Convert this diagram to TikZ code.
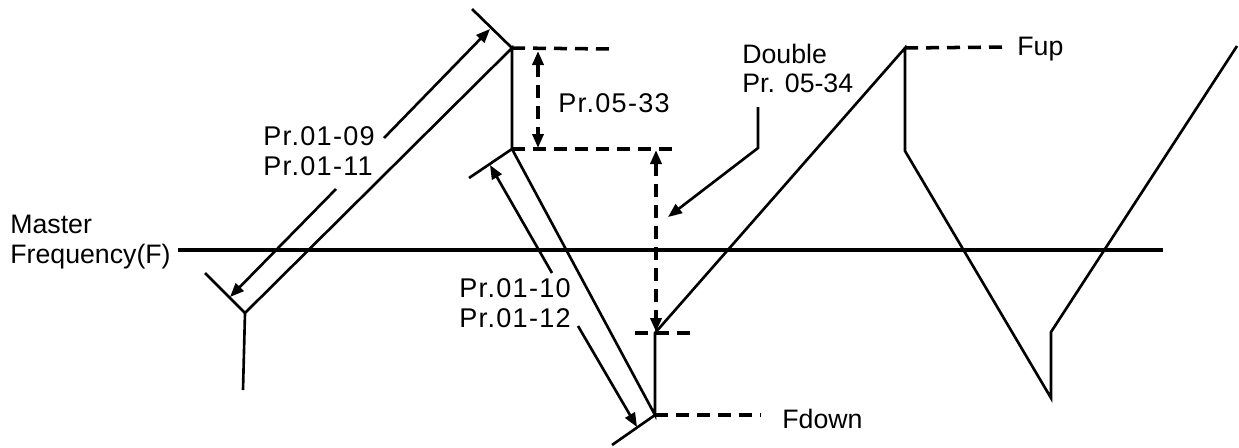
\documentclass[tikz,border=0pt]{standalone}
\usepackage{fontspec}
\setmainfont{Liberation Sans}
\usetikzlibrary{arrows.meta}

\tikzset{
  wave/.style={line width=1.5pt, line join=miter},
  masterline/.style={line width=2.2pt},
  dashlvl/.style={line width=2pt, dash pattern=on 0.26cm off 0.16cm},
  dimarrow/.style={line width=1.5pt, -{Triangle[length=0.28cm,width=0.22cm]}},
  dimdouble/.style={line width=2pt, dash pattern=on 0.26cm off 0.16cm,
    {Triangle[length=0.28cm,width=0.22cm]}-{Triangle[length=0.28cm,width=0.22cm]}},
  lbl/.style={anchor=base west, inner sep=0pt, font=\fontsize{15.2}{18}\selectfont},
  prlbl/.style={lbl, font=\fontsize{15.4}{18}\selectfont\addfontfeature{LetterSpace=4.8}},
}

\begin{document}
\begin{tikzpicture}[x=0.02cm, y=-0.02cm]
  \useasboundingbox (0,0) rectangle (1239,447);

  % corners of the frequency curve
  \coordinate (start) at (243,390);
  \coordinate (lowA) at (245,313);
  \coordinate (topA) at (512,48);
  \coordinate (stepA) at (512,149);
  \coordinate (lowB) at (655,415);
  \coordinate (stepB) at (655,333);
  \coordinate (topB) at (905,48);
  \coordinate (stepC) at (905,151);
  \coordinate (lowC) at (1051,398);
  \coordinate (stepD) at (1051,332);
  \coordinate (finish) at (1237,46);

  % master frequency
  \node[lbl] (master) at (10,233) {Master};
  \node[lbl] (freq) at (10,263) {Frequency(F)};
  \coordinate (mEnd) at (1163,250);
  \draw[masterline] (178,250) coordinate (mStart) -- (mEnd);

  \draw[wave] (start) -- (lowA) -- (topA) -- (stepA) -- (lowB) -- (stepB)
    -- (topB) -- (stepC) -- (lowC) -- (stepD) -- (finish);

  % end ticks of the ramps
  \draw[wave] (205,273) coordinate (tickA) -- (lowA);
  \draw[wave] (472,9) coordinate (tickB) -- (topA);
  \draw[wave] (469,178) coordinate (tickC) -- (stepA);
  \draw[wave] (612,445) coordinate (tickD) -- (lowB);

  % levels
  \draw[dashlvl] (topA) -- (611,49) coordinate (lvlA);
  \draw[dashlvl] (stepA) -- (677,149) coordinate (lvlB);
  \draw[dashlvl] (635,333) coordinate (lvlC) -- (692,333) coordinate (lvlD);
  \draw[dashlvl] (lowB) -- (760,415) coordinate (lvlE);
  \draw[dashlvl] (topB) -- (1005,47) coordinate (lvlF);
  \node[lbl] (fup) at (1017,55) {Fup};
  \node[lbl] (fdown) at (782,428) {Fdown};

  % accel time
  \node[prlbl] (acc1) at (263,145) {Pr.01-09};
  \node[prlbl] (acc2) at (263,175) {Pr.01-11};
  \coordinate (accUp) at (384,138);
  \coordinate (accDown) at (336,189);
  \draw[dimarrow] (accUp) -- (490,29) coordinate (accTip);
  \draw[dimarrow] (accDown) -- (230,297) coordinate (accEnd);

  % decel time
  \node[prlbl] (dec1) at (459,297) {Pr.01-10};
  \node[prlbl] (dec2) at (459,327) {Pr.01-12};
  \coordinate (decUp) at (552,273);
  \coordinate (decDown) at (578,326);
  \draw[dimarrow] (decUp) -- (490,165) coordinate (decTip);
  \draw[dimarrow] (decDown) -- (637,427) coordinate (decEnd);

  % step sizes
  \node[prlbl] (step1) at (558,112) {Pr.05-33};
  \draw[dimdouble] (538,51) coordinate (gapTop) -- (538,148) coordinate (gapBot);
  \draw[dimdouble] (656,150) coordinate (dblTop) -- (656,332) coordinate (dblBot);

  \node[lbl] (dbl1) at (742,63) {Double};
  \node[lbl] (dbl2) at (742,92) {Pr. 05-34};
  \coordinate (lead) at (758,107);
  \coordinate (bend) at (758,148);
  \draw[line width=1.5pt, -{Triangle[length=0.28cm,width=0.22cm]}]
    (lead) -- (bend) -- (668,217) coordinate (leadTip);
\end{tikzpicture}
\end{document}
